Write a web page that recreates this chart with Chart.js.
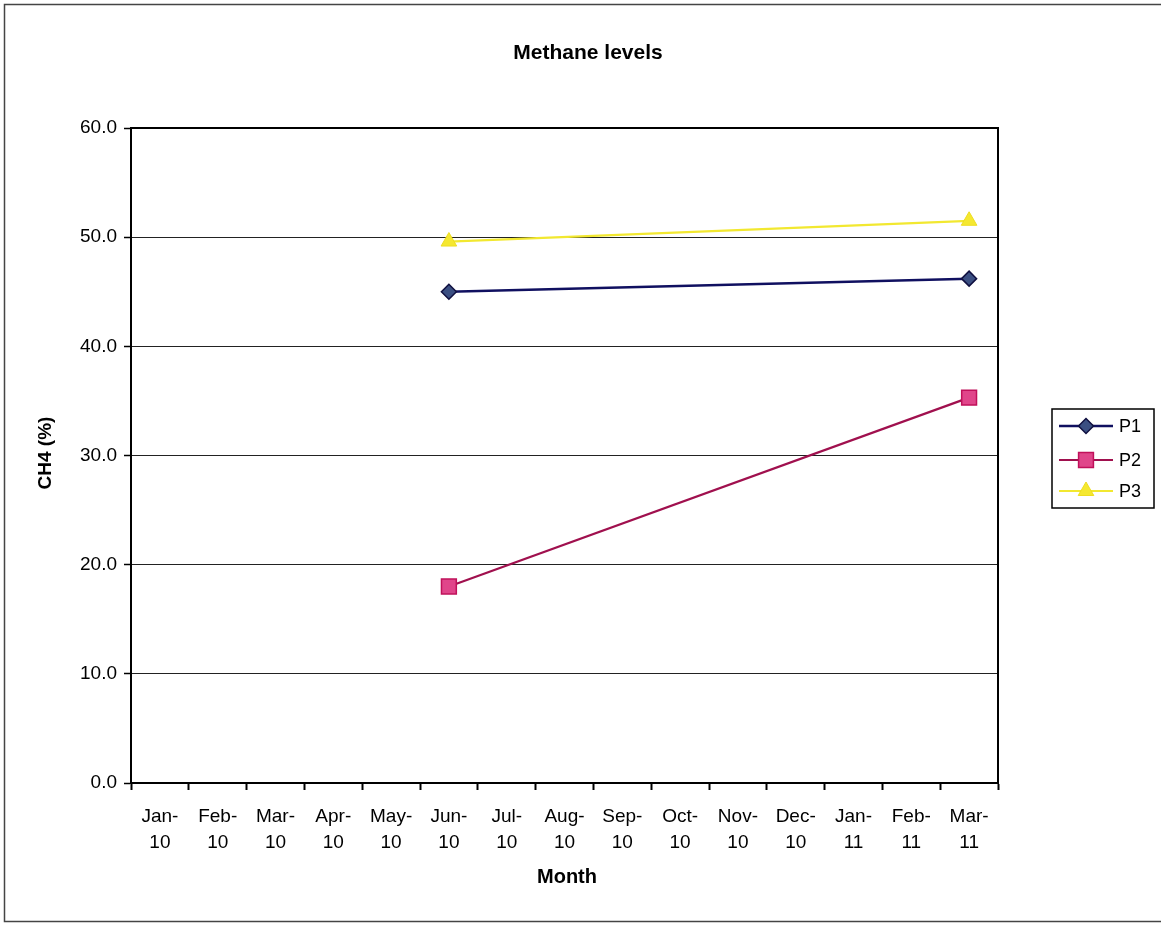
<!DOCTYPE html>
<html>
<head>
<meta charset="utf-8">
<title>Methane levels</title>
<script src="https://cdn.jsdelivr.net/npm/chart.js@4.4.1/dist/chart.umd.min.js"></script>
<style>
  html, body { margin: 0; padding: 0; background: #ffffff; }
  #wrap { width: 1161px; height: 926px; }
</style>
</head>
<body>
<div id="wrap"><canvas id="chart" width="1161" height="926"></canvas></div>
<script>
// Monthly sampling periods
const months = ['Jan-10', 'Feb-10', 'Mar-10', 'Apr-10', 'May-10', 'Jun-10', 'Jul-10',
  'Aug-10', 'Sep-10', 'Oct-10', 'Nov-10', 'Dec-10', 'Jan-11', 'Feb-11', 'Mar-11'];

// Methane concentration (%) at each probe; null = no reading that month
const p1 = [null, null, null, null, null, 45.0, null, null, null, null, null, null, null, null, 46.2];
const p2 = [null, null, null, null, null, 18.0, null, null, null, null, null, null, null, null, 35.3];
const p3 = [null, null, null, null, null, 49.6, null, null, null, null, null, null, null, null, 51.5];

const seriesNames = ['P1', 'P2', 'P3'];

const yMin = 0, yMax = 60, yStep = 10;

// Two-line tick labels: "Jan-" / "10"
const tickLabels = months.map(m => {
  const i = m.indexOf('-');
  return [m.slice(0, i + 1), m.slice(i + 1)];
});

const FONT = '"Liberation Sans", Arial, sans-serif';

// Titles, plot frame, legend box and outer frame
const decorations = {
  id: 'decorations',
  beforeDraw(chart) {
    const ctx = chart.ctx;
    ctx.save();
    ctx.fillStyle = '#ffffff';
    ctx.fillRect(0, 0, chart.width, chart.height);
    ctx.restore();
  },
  afterDraw(chart) {
    const ctx = chart.ctx;
    const area = chart.chartArea;
    ctx.save();

    // outer frame
    ctx.strokeStyle = '#444';
    ctx.lineWidth = 1.5;
    ctx.strokeRect(4.5, 4.5, 1170, 917);

    // plot frame
    ctx.strokeStyle = '#000';
    ctx.lineWidth = 2;
    ctx.strokeRect(area.left, area.top, area.right - area.left, area.bottom - area.top);

    // chart title
    ctx.fillStyle = '#000';
    ctx.textAlign = 'center';
    ctx.textBaseline = 'middle';
    ctx.font = 'bold 21px ' + FONT;
    ctx.fillText('Methane levels', 588, 53);

    // x axis title
    ctx.font = 'bold 20px ' + FONT;
    ctx.fillText('Month', 567, 877);

    // y axis title
    ctx.save();
    ctx.translate(46, 453);
    ctx.rotate(-Math.PI / 2);
    ctx.font = 'bold 19px ' + FONT;
    ctx.fillText('CH4 (%)', 0, 0);
    ctx.restore();

    // legend
    const lx = 1052, ly = 409, lw = 102, lh = 99;
    ctx.strokeStyle = '#000';
    ctx.lineWidth = 1.5;
    ctx.strokeRect(lx, ly, lw, lh);
    const rows = [426, 460, 491];
    chart.data.datasets.forEach((ds, i) => {
      const y = rows[i];
      ctx.strokeStyle = ds.borderColor;
      ctx.lineWidth = ds.borderWidth;
      ctx.beginPath();
      ctx.moveTo(1059, y);
      ctx.lineTo(1113, y);
      ctx.stroke();
      ctx.fillStyle = ds.pointBackgroundColor;
      ctx.strokeStyle = ds.pointBorderColor;
      ctx.lineWidth = ds.pointBorderWidth;
      Chart.helpers.drawPoint(ctx, {
        pointStyle: ds.pointStyle,
        radius: ds.pointRadius,
        rotation: 0,
        borderWidth: ds.pointBorderWidth
      }, 1086, y);
      ctx.fillStyle = '#000';
      ctx.textAlign = 'left';
      ctx.textBaseline = 'middle';
      ctx.font = '18px ' + FONT;
      ctx.fillText(ds.label, 1119, y + 1);
    });

    ctx.restore();
  }
};

new Chart(document.getElementById('chart'), {
  type: 'line',
  data: {
    labels: tickLabels,
    datasets: [
      {
        label: seriesNames[0],
        data: p1,
        spanGaps: true,
        borderColor: '#101060',
        borderWidth: 2.5,
        pointStyle: 'rectRot',
        pointRadius: 7.5,
        pointBackgroundColor: '#3b4f82',
        pointBorderColor: '#101040',
        pointBorderWidth: 1.5,
        tension: 0
      },
      {
        label: seriesNames[1],
        data: p2,
        spanGaps: true,
        borderColor: '#a0104e',
        borderWidth: 2.2,
        pointStyle: 'rect',
        pointRadius: 10.5,
        pointBackgroundColor: '#e0458a',
        pointBorderColor: '#c0105a',
        pointBorderWidth: 1.5,
        tension: 0
      },
      {
        label: seriesNames[2],
        data: p3,
        spanGaps: true,
        borderColor: '#f2e830',
        borderWidth: 2.2,
        pointStyle: 'triangle',
        pointRadius: 9,
        pointBackgroundColor: '#f5e830',
        pointBorderColor: '#eedd20',
        pointBorderWidth: 1,
        tension: 0
      }
    ]
  },
  options: {
    responsive: false,
    animation: false,
    events: [],
    layout: { padding: { left: 0, top: 128, right: 163, bottom: 0 } },
    plugins: {
      legend: { display: false },
      title: { display: false },
      tooltip: { enabled: false }
    },
    scales: {
      x: {
        offset: true,
        afterFit(scale) { scale.height = 143; },
        grid: {
          offset: true,
          drawOnChartArea: false,
          drawTicks: true,
          tickLength: 7,
          tickWidth: 2,
          tickColor: '#000'
        },
        border: { display: true, color: '#000', width: 2 },
        ticks: {
          color: '#000',
          padding: 13,
          maxRotation: 0,
          autoSkip: false,
          font: { family: FONT, size: 19, lineHeight: 1.4 }
        }
      },
      y: {
        min: yMin,
        max: yMax,
        afterFit(scale) { scale.width = 131; },
        grid: {
          color: '#222',
          lineWidth: 1,
          drawTicks: true,
          tickLength: 7,
          tickColor: '#000',
          tickWidth: 1.5
        },
        border: { display: true, color: '#000', width: 2 },
        ticks: {
          stepSize: yStep,
          color: '#000',
          padding: 7,
          font: { family: FONT, size: 19 },
          callback: v => Number(v).toFixed(1)
        }
      }
    }
  },
  plugins: [decorations]
});
</script>
</body>
</html>
